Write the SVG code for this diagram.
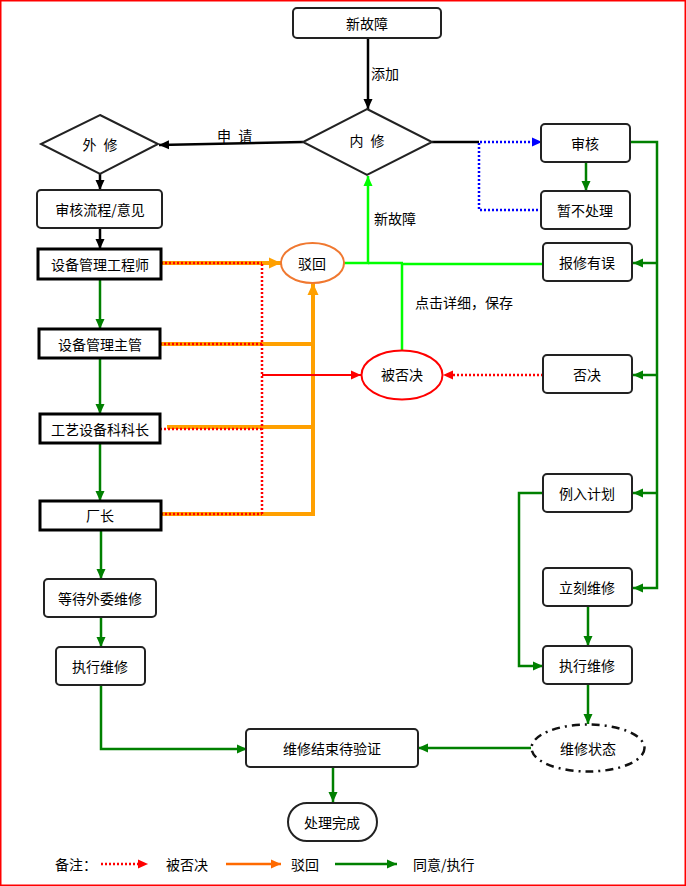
<svg xmlns="http://www.w3.org/2000/svg" width="686" height="886" viewBox="0 0 686 886">
<defs>
<style>
text{font-family:"Noto Sans CJK SC","Noto Sans",sans-serif;font-size:14px;fill:#000;dominant-baseline:central}
.c{text-anchor:middle}
.ws{word-spacing:4px}
.rb{fill:#fff;stroke:#222;stroke-width:2}
.sb{fill:#fff;stroke:#000;stroke-width:3}
.dm{fill:#fff;stroke:#222;stroke-width:2}
.bk{fill:none;stroke:#000;stroke-width:2.5}
.gr{fill:none;stroke:#008000;stroke-width:2.5}
.lg{fill:none;stroke:#00ff00;stroke-width:2.5}
.bl{fill:none;stroke:#0000ff;stroke-width:2.5;stroke-dasharray:2 2}
.rd{fill:none;stroke:#ff0000;stroke-width:2.5;stroke-dasharray:2 2}
.rs{fill:none;stroke:#ff0000;stroke-width:2}
.or{fill:none;stroke:#ffa000;stroke-width:4}
</style>
<marker id="aBk" markerUnits="userSpaceOnUse" markerWidth="10" markerHeight="10" refX="10" refY="5" orient="auto"><path d="M0,0.5 L10,5 L0,9.5 z" fill="#000"/></marker>
<marker id="aGr" markerUnits="userSpaceOnUse" markerWidth="10" markerHeight="10" refX="10" refY="5" orient="auto"><path d="M0,0.5 L10,5 L0,9.5 z" fill="#008000"/></marker>
<marker id="aLg" markerUnits="userSpaceOnUse" markerWidth="10" markerHeight="10" refX="10" refY="5" orient="auto"><path d="M0,0.5 L10,5 L0,9.5 z" fill="#00ff00"/></marker>
<marker id="aBl" markerUnits="userSpaceOnUse" markerWidth="10" markerHeight="10" refX="10" refY="5" orient="auto"><path d="M0,0.5 L10,5 L0,9.5 z" fill="#0000ff"/></marker>
<marker id="aRd" markerUnits="userSpaceOnUse" markerWidth="10" markerHeight="10" refX="10" refY="5" orient="auto"><path d="M0,0.5 L10,5 L0,9.5 z" fill="#ff0000"/></marker>
<marker id="aOr" markerUnits="userSpaceOnUse" markerWidth="12" markerHeight="12" refX="12" refY="6" orient="auto"><path d="M0,0.5 L12,6 L0,11.5 z" fill="#ffa000"/></marker>
<marker id="aOl" markerUnits="userSpaceOnUse" markerWidth="10" markerHeight="10" refX="10" refY="5" orient="auto"><path d="M0,0.5 L10,5 L0,9.5 z" fill="#ff6a00"/></marker>
</defs>
<rect x="0.75" y="0.75" width="684.5" height="884.5" fill="#fff" stroke="#ff0000" stroke-width="1.5"/>

<g id="connectors">
<line class="bk" x1="368" y1="38" x2="368" y2="109" marker-end="url(#aBk)"/>
<line class="bk" x1="303" y1="142" x2="159" y2="145" marker-end="url(#aBk)"/>
<line class="bk" x1="100" y1="174" x2="100" y2="190" marker-end="url(#aBk)"/>
<line class="bk" x1="100" y1="228" x2="100" y2="249" marker-end="url(#aBk)"/>
<line class="bk" x1="432" y1="142" x2="479" y2="142"/>
<polyline class="bl" points="542,210 479,210 479,142 532,142"/>
<line x1="530" y1="142" x2="542" y2="142" stroke="#0000ff" stroke-width="0.1" marker-end="url(#aBl)"/>
<line class="gr" x1="586" y1="162" x2="586" y2="191" marker-end="url(#aGr)"/>
<polyline class="gr" points="630,142 657,142 657,588 633,588" marker-end="url(#aGr)"/>
<line class="gr" x1="657" y1="263" x2="633" y2="263" marker-end="url(#aGr)"/>
<line class="gr" x1="657" y1="375" x2="633" y2="375" marker-end="url(#aGr)"/>
<line class="gr" x1="657" y1="493" x2="633" y2="493" marker-end="url(#aGr)"/>
<polyline class="gr" points="543,493 519,493 519,666 543,666" marker-end="url(#aGr)"/>
<line class="gr" x1="588" y1="606" x2="588" y2="646" marker-end="url(#aGr)"/>
<line class="gr" x1="588" y1="684" x2="588" y2="724" marker-end="url(#aGr)"/>
<line class="gr" x1="531" y1="748" x2="418" y2="748" marker-end="url(#aGr)"/>
<line class="gr" x1="333" y1="767" x2="333" y2="802" marker-end="url(#aGr)"/>
<line class="gr" x1="100" y1="279" x2="100" y2="329" marker-end="url(#aGr)"/>
<line class="gr" x1="100" y1="358" x2="100" y2="414" marker-end="url(#aGr)"/>
<line class="gr" x1="100" y1="443" x2="100" y2="501" marker-end="url(#aGr)"/>
<line class="gr" x1="101" y1="530" x2="101" y2="579" marker-end="url(#aGr)"/>
<line class="gr" x1="101" y1="617" x2="101" y2="647" marker-end="url(#aGr)"/>
<polyline class="gr" points="101,685 101,749 247,749" marker-end="url(#aGr)"/>
<polyline class="lg" points="543,264 402,264 402,350"/>
<polyline class="lg" points="344,263 368,263 368,176" marker-end="url(#aLg)"/>
<line class="lg" x1="368" y1="263" x2="403" y2="263"/>
<line class="or" x1="161" y1="263" x2="281" y2="263" marker-end="url(#aOr)"/>
<line class="or" x1="160" y1="344" x2="313" y2="344"/>
<line class="or" x1="167" y1="427" x2="313" y2="427"/>
<polyline class="or" points="161,514 313,514 313,283" marker-end="url(#aOr)"/>
<line class="rd" x1="161" y1="263" x2="262" y2="263"/>
<line class="rd" x1="160" y1="344" x2="262" y2="344"/>
<line class="rd" x1="160" y1="429" x2="262" y2="429"/>
<line class="rd" x1="161" y1="514" x2="262" y2="514"/>
<line class="rd" x1="262" y1="264" x2="262" y2="514"/>
<line class="rs" x1="262" y1="375" x2="361" y2="375" marker-end="url(#aRd)"/>
<line class="rd" x1="543" y1="375" x2="452" y2="375"/>
<line x1="452" y1="375" x2="443" y2="375" stroke="#ff0000" stroke-width="0.1" marker-end="url(#aRd)"/>
</g>

<g id="labels">
<text x="371" y="73">添加</text>
<text class="ws" x="217" y="135">申 请</text>
<text x="374" y="218">新故障</text>
<text x="415" y="302">点击详细，保存</text>
</g>

<g id="n_xgz"><rect class="rb" x="293" y="8" width="148" height="30" rx="4"/><text class="c" x="367" y="23">新故障</text></g>
<g id="n_nx"><polygon class="dm" points="367,109 432,142 367,175 303,142"/><text class="c ws" x="367" y="140">内 修</text></g>
<g id="n_wx"><polygon class="dm" points="100,115 158,144 100,174 41,144"/><text class="c ws" x="100" y="144">外 修</text></g>
<g id="n_shlc"><rect class="rb" x="37" y="190" width="125" height="38" rx="4"/><text class="c" x="100" y="209">审核流程/意见</text></g>
<g id="n_gcs"><rect class="sb" x="38" y="249" width="123" height="30"/><text class="c" x="100" y="264">设备管理工程师</text></g>
<g id="n_zg"><rect class="sb" x="39" y="329" width="121" height="29"/><text class="c" x="100" y="344">设备管理主管</text></g>
<g id="n_kz"><rect class="sb" x="40" y="414" width="120" height="29"/><text class="c" x="100" y="429">工艺设备科科长</text></g>
<g id="n_cz"><rect class="sb" x="40" y="501" width="121" height="29"/><text class="c" x="100" y="515">厂长</text></g>
<g id="n_ddww"><rect class="rb" x="44" y="579" width="112" height="38" rx="4"/><text class="c" x="100" y="598">等待外委维修</text></g>
<g id="n_zxwx1"><rect class="rb" x="56" y="647" width="89" height="38" rx="4"/><text class="c" x="100" y="666">执行维修</text></g>
<g id="n_wxjs"><rect class="rb" x="246" y="729" width="172" height="38" rx="4"/><text class="c" x="332" y="748">维修结束待验证</text></g>
<g id="n_clwc"><rect class="rb" x="288" y="803" width="89" height="38" rx="19"/><text class="c" x="332" y="822">处理完成</text></g>
<g id="n_bh"><ellipse cx="312.5" cy="263" rx="31.5" ry="20" fill="#fff" stroke="#f07830" stroke-width="2"/><text class="c" x="312" y="263">驳回</text></g>
<g id="n_bfj"><ellipse cx="402" cy="375" rx="40.5" ry="24.5" fill="#fff" stroke="#ff0000" stroke-width="2"/><text class="c" x="402" y="374">被否决</text></g>
<g id="n_sh"><rect class="rb" x="541" y="124" width="89" height="38" rx="4"/><text class="c" x="585" y="143">审核</text></g>
<g id="n_zbcl"><rect class="rb" x="541" y="191" width="89" height="38" rx="4"/><text class="c" x="585" y="210">暂不处理</text></g>
<g id="n_bxyw"><rect class="rb" x="543" y="243" width="89" height="38" rx="4"/><text class="c" x="587" y="262">报修有误</text></g>
<g id="n_fj"><rect class="rb" x="543" y="355" width="89" height="38" rx="4"/><text class="c" x="587" y="374">否决</text></g>
<g id="n_lrjh"><rect class="rb" x="543" y="474" width="89" height="38" rx="4"/><text class="c" x="587" y="493">例入计划</text></g>
<g id="n_lkwx"><rect class="rb" x="543" y="568" width="89" height="38" rx="4"/><text class="c" x="587" y="587">立刻维修</text></g>
<g id="n_zxwx2"><rect class="rb" x="543" y="646" width="89" height="38" rx="4"/><text class="c" x="587" y="665">执行维修</text></g>
<g id="n_wxzt"><ellipse cx="588" cy="748" rx="56.5" ry="23.5" fill="#fff" stroke="#111" stroke-width="2.5" stroke-dasharray="8 5 2 5"/><text class="c" x="588" y="748">维修状态</text></g>

<g id="legend">
<text x="55" y="864">备注：</text>
<line class="rd" x1="101" y1="864" x2="140" y2="864"/>
<line x1="140" y1="864" x2="148" y2="864" stroke="#ff0000" stroke-width="0.1" marker-end="url(#aRd)"/>
<text x="166" y="864">被否决</text>
<line x1="226" y1="864" x2="281" y2="864" stroke="#ff6a00" stroke-width="2.5" marker-end="url(#aOl)"/>
<text x="291" y="864">驳回</text>
<line x1="335" y1="864" x2="397" y2="864" stroke="#008000" stroke-width="2.5" marker-end="url(#aGr)"/>
<text x="413" y="864">同意/执行</text>
</g>
</svg>
